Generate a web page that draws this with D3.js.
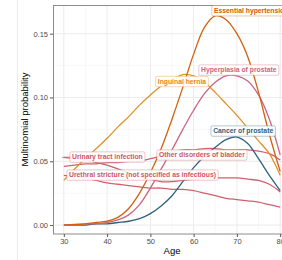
<!DOCTYPE html>
<html>
<head>
<meta charset="utf-8">
<script src="https://cdn.jsdelivr.net/npm/d3@7"></script>
<style>
  body { margin: 0; background: #fff; }
  svg { display: block; font-family: "Liberation Sans", Arial, sans-serif; }
</style>
</head>
<body>
<div id="chart"></div>
<script>
var W = 282, H = 260,
    m = [5, -9, 26, 53]; // top right bottom left

var ages = [30, 32.5, 35, 37.5, 40, 42.5, 45, 47.5, 50, 52.5, 55, 57.5, 60, 62.5, 65, 67.5, 70, 72.5, 75, 77.5, 80];

var essentialHypertension = [0.000, 0.0005, 0.001, 0.002, 0.003, 0.006, 0.013, 0.025, 0.041, 0.060, 0.083, 0.108, 0.134, 0.155, 0.164, 0.161, 0.150, 0.132, 0.104, 0.071, 0.042];
var inguinalHernia        = [0.035, 0.044, 0.052, 0.060, 0.068, 0.077, 0.085, 0.094, 0.102, 0.109, 0.114, 0.118, 0.117, 0.112, 0.104, 0.095, 0.086, 0.076, 0.066, 0.056, 0.039];
var hyperplasiaProstate   = [0.000, 0.000, 0.001, 0.001, 0.002, 0.004, 0.008, 0.016, 0.029, 0.044, 0.059, 0.075, 0.090, 0.103, 0.112, 0.117, 0.117, 0.113, 0.102, 0.083, 0.055];
var cancerProstate        = [0.000, 0.000, 0.000, 0.001, 0.001, 0.002, 0.003, 0.005, 0.009, 0.015, 0.023, 0.034, 0.045, 0.054, 0.061, 0.067, 0.069, 0.064, 0.052, 0.039, 0.027];
var urinaryTract          = [0.053, 0.052, 0.051, 0.049, 0.047, 0.044, 0.041, 0.038, 0.036, 0.034, 0.034, 0.035, 0.036, 0.037, 0.037, 0.037, 0.037, 0.036, 0.035, 0.032, 0.026];
var urethralStricture     = [0.039, 0.038, 0.037, 0.035, 0.033, 0.032, 0.031, 0.030, 0.029, 0.029, 0.028, 0.028, 0.027, 0.025, 0.023, 0.021, 0.020, 0.019, 0.018, 0.016, 0.014];
var otherBladder          = [0.046, 0.047, 0.048, 0.048, 0.049, 0.049, 0.050, 0.050, 0.052, 0.054, 0.057, 0.059, 0.059, 0.060, 0.060, 0.059, 0.059, 0.059, 0.058, 0.056, 0.051];

var names = ["Essential hypertension", "Inguinal hernia", "Hyperplasia of prostate", "Cancer of prostate",
             "Urinary tract infection", "Urethral stricture (not specified as infectious)", "Other disorders of bladder"];
var values = [essentialHypertension, inguinalHernia, hyperplasiaProstate, cancerProstate,
              urinaryTract, urethralStricture, otherBladder];

var yTicks = [0, 0.05, 0.10, 0.15];
var xTicks = [30, 40, 50, 60, 70, 80];

var colors = ["#d4600f", "#e39024", "#cc6680", "#2f617f", "#d0606c", "#d0606c", "#d0606c"];
var textColors = ["#d05a0c", "#e08a1c", "#cc6680", "#2f617f", "#cc5868", "#cc5868", "#cc5868"];
// label box: left edge (age), vertical centre (probability)
var labelPos = [[64.2, 0.168], [51.2, 0.1125], [61.2, 0.1215], [64.0, 0.0737],
                [31.4, 0.0533], [30.7, 0.0392], [51.5, 0.0549]];

var w = W - m[1] - m[3],
    h = H - m[0] - m[2];

var x = d3.scaleLinear().domain([27.5, 82.5]).range([0, w]);
var y = d3.scaleLinear().domain([-0.007, 0.1725]).range([h, 0]);

var svg = d3.select("#chart").append("svg")
    .attr("width", W)
    .attr("height", H);

svg.append("line")
    .attr("x1", 17.5).attr("x2", 17.5)
    .attr("y1", 0).attr("y2", H)
    .attr("stroke", "#ececec");

var g = svg.append("g")
    .attr("transform", "translate(" + m[3] + "," + m[0] + ")");

// minor grid
[35, 45, 55, 65, 75].forEach(function(v) {
  g.append("line").attr("x1", x(v)).attr("x2", x(v)).attr("y1", 0).attr("y2", h)
      .attr("stroke", "#f4f4f4").attr("stroke-width", 0.6);
});
[0.025, 0.075, 0.125].forEach(function(v) {
  g.append("line").attr("x1", 0).attr("x2", w).attr("y1", y(v)).attr("y2", y(v))
      .attr("stroke", "#f4f4f4").attr("stroke-width", 0.6);
});
// major grid
xTicks.forEach(function(v) {
  g.append("line").attr("x1", x(v)).attr("x2", x(v)).attr("y1", 0).attr("y2", h)
      .attr("stroke", "#ebebeb").attr("stroke-width", 1);
});
yTicks.forEach(function(v) {
  g.append("line").attr("x1", 0).attr("x2", w).attr("y1", y(v)).attr("y2", y(v))
      .attr("stroke", "#ebebeb").attr("stroke-width", 1);
});

g.append("rect")
    .attr("x", 0.5).attr("y", 0.5)
    .attr("width", w).attr("height", h - 0.5)
    .attr("fill", "none")
    .attr("stroke", "#8c8c8c");

var xAxis = g.append("g")
    .attr("transform", "translate(0," + h + ")")
    .call(d3.axisBottom(x).tickValues(xTicks).tickSize(3).tickPadding(2).tickFormat(d3.format("d")));
var yAxis = g.append("g")
    .call(d3.axisLeft(y).tickValues(yTicks).tickSize(3).tickPadding(2).tickFormat(d3.format(".2f")));

[xAxis, yAxis].forEach(function(a) {
  a.select(".domain").remove();
  a.selectAll("line").attr("stroke", "#555");
  a.selectAll("text").attr("fill", "#4d4d4d").style("font-size", "7.5px")
      .style("font-family", "'Liberation Sans', Arial, sans-serif");
});

var line = d3.line()
    .x(function(d) { return x(d[0]); })
    .y(function(d) { return y(d[1]); })
    .curve(d3.curveCatmullRom.alpha(0.5));

var series = names.map(function(n, i) {
  return { name: n, color: colors[i], points: ages.map(function(a, j) { return [a, values[i][j]]; }) };
});

// draw lines in reverse so the main curves sit on top
g.selectAll("path.curve")
    .data(series.slice().reverse())
  .enter().append("path")
    .attr("class", "curve")
    .attr("d", function(d) { return line(d.points); })
    .attr("fill", "none")
    .attr("stroke", function(d) { return d.color; })
    .attr("stroke-width", 1.3);

// segment for the urinary tract infection label
g.append("line")
    .attr("x1", x(29.6)).attr("x2", x(labelPos[4][0]))
    .attr("y1", y(urinaryTract[0])).attr("y2", y(labelPos[4][1]))
    .attr("stroke", colors[4]).attr("stroke-width", 0.8);

// labels
var lab = g.selectAll("g.lab")
    .data(series)
  .enter().append("g")
    .attr("class", "lab")
    .attr("transform", function(d, i) {
      return "translate(" + x(labelPos[i][0]) + "," + y(labelPos[i][1]) + ")";
    });

lab.each(function(d, i) {
  var el = d3.select(this);
  var rect = el.append("rect");
  var t = el.append("text")
      .attr("x", 2.2)
      .attr("dy", "0.35em")
      .attr("fill", textColors[i])
      .style("font-size", "6.8px")
      .style("font-weight", "bold")
      .text(d.name);
  var tw = t.node().getComputedTextLength();
  rect.attr("x", 0).attr("y", -5.2)
      .attr("width", tw + 4.4).attr("height", 10.4)
      .attr("rx", 1.5)
      .attr("fill", "#fff").attr("fill-opacity", 0.9)
      .attr("stroke", d.color).attr("stroke-opacity", 0.45)
      .attr("stroke-width", 0.8);
});

svg.append("text")
    .attr("x", m[3] + w / 2)
    .attr("y", 254)
    .attr("text-anchor", "middle")
    .style("font-size", "9.5px")
    .attr("fill", "#000")
    .text("Age");

svg.append("text")
    .attr("transform", "translate(28," + (m[0] + h / 2) + ") rotate(-90)")
    .attr("text-anchor", "middle")
    .style("font-size", "9.5px")
    .attr("fill", "#000")
    .text("Multinomial probability");
</script>
</body>
</html>
